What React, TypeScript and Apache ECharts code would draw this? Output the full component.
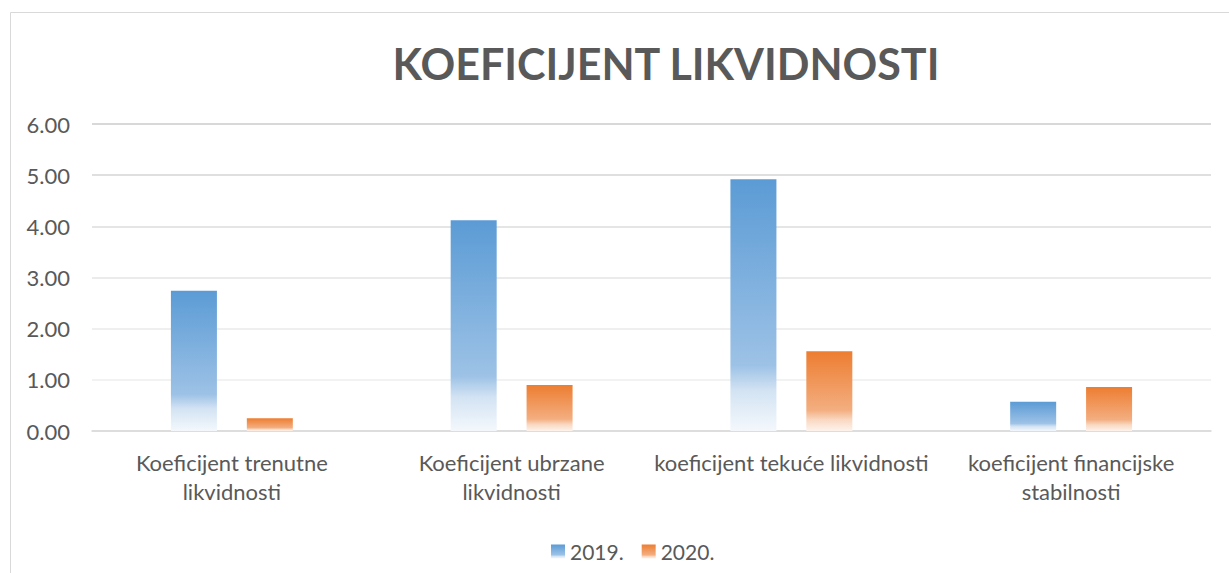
import React, { useEffect, useRef } from "react";
import * as echarts from "echarts";

const categories = [
  "Koeficijent trenutne\nlikvidnosti",
  "Koeficijent ubrzane\nlikvidnosti",
  "koeficijent tekuće likvidnosti",
  "koeficijent financijske\nstabilnosti",
];
const values2019 = [2.74, 4.12, 4.92, 0.57];
const values2020 = [0.25, 0.9, 1.56, 0.86];
const seriesNames = ["2019.", "2020."];
const titleText = "KOEFICIJENT LIKVIDNOSTI";

const FONT = "Lato, 'Open Sans', sans-serif";
const TEXT = "#595959";

const blueGrad = new echarts.graphic.LinearGradient(0, 0, 0, 1, [
  { offset: 0, color: "#5B9BD5" },
  { offset: 0.74, color: "#9DC2E6" },
  { offset: 0.84, color: "#D3E3F3" },
  { offset: 1, color: "#F4F8FC" },
]);
const orangeGrad = new echarts.graphic.LinearGradient(0, 0, 0, 1, [
  { offset: 0, color: "#ED7D31" },
  { offset: 0.74, color: "#F3AE80" },
  { offset: 0.86, color: "#F9D8C2" },
  { offset: 1, color: "#FDF3EC" },
]);

export default function App() {
  const ref = useRef<HTMLDivElement>(null);
  useEffect(() => {
    if (!ref.current) return;
    const chart = echarts.init(ref.current, null, { renderer: "svg" });
    chart.setOption({
      animation: false,
      backgroundColor: "#ffffff",
      graphic: [
        {
          type: "rect",
          shape: { x: 10.5, y: 12.5, width: 1300, height: 700 },
          style: { fill: "none", stroke: "#d9d9d9", lineWidth: 1 },
          z: -1,
        },
        {
          type: "text",
          x: 666,
          y: 63,
          style: {
            text: titleText,
            fill: TEXT,
            font: `bold 43px ${FONT}`,
            textAlign: "center",
            textVerticalAlign: "middle",
          },
        },
      ],
      grid: { left: 92, right: 18, top: 124, bottom: 142, containLabel: false },
      legend: {
        left: 546,
        top: 536,
        itemWidth: 14,
        itemHeight: 14,
        itemGap: 18,
        icon: "rect",
        textStyle: { color: TEXT, fontSize: 21, fontFamily: FONT },
        data: seriesNames,
      },
      xAxis: {
        type: "category",
        data: categories,
        axisLine: { lineStyle: { color: "#d9d9d9", width: 1.5 } },
        axisTick: { show: false },
        axisLabel: {
          color: TEXT,
          fontSize: 22,
          fontFamily: FONT,
          lineHeight: 29,
          margin: 17,
          interval: 0,
        },
      },
      yAxis: {
        type: "value",
        min: 0,
        max: 6,
        interval: 1,
        axisLine: { show: false },
        axisTick: { show: false },
        axisLabel: {
          color: TEXT,
          fontSize: 22,
          fontFamily: FONT,
          margin: 22,
          formatter: (v: number) => v.toFixed(2),
        },
        splitLine: {
          lineStyle: {
            width: 1.5,
            color: ["#e2e2e2", "#eeeeee", "#eaeaea", "#e4e4e4", "#dcdcdc", "#d4d4d4", "#cbcbcb"],
          },
        },
      },
      series: [
        {
          name: seriesNames[0],
          type: "bar",
          data: values2019,
          barWidth: 46,
          barGap: "65%",
          itemStyle: { color: blueGrad },
        },
        {
          name: seriesNames[1],
          type: "bar",
          data: values2020,
          barWidth: 46,
          itemStyle: { color: orangeGrad },
        },
      ],
    });
    return () => chart.dispose();
  }, []);
  return (
    <div
      ref={ref}
      style={{ position: "fixed", left: 0, top: 0, width: 1229, height: 573 }}
    />
  );
}
